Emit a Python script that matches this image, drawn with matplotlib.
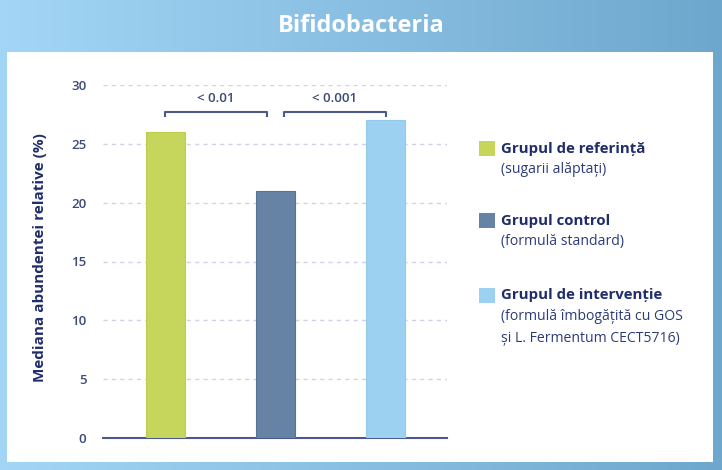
import numpy as np
import matplotlib
matplotlib.use("Agg")
import matplotlib.pyplot as plt
from matplotlib.patches import Rectangle
from matplotlib.colors import LinearSegmentedColormap

# data
groups = ["Grupul de referință", "Grupul control", "Grupul de intervenție"]
subtitles = ["(sugarii alăptați)", "(formulă standard)",
             "(formulă îmbogățită cu GOS\nși L. Fermentum CECT5716)"]
values = [26, 21, 27]
colors = ["#c6d55c", "#6683a6", "#9dd1f1"]
pvals = ["< 0.01", "< 0.001"]
yticks = [0, 5, 10, 15, 20, 25, 30]

navy = "#1f2d6b"
plt.rcParams["font.family"] = ["Open Sans", "DejaVu Sans"]

W, H = 722, 470
fig = plt.figure(figsize=(W / 100, H / 100), dpi=100)

# background frame with gradient
bg = fig.add_axes([0, 0, 1, 1])
bg.set_xlim(0, W)
bg.set_ylim(H, 0)
bg.axis("off")
cmap = LinearSegmentedColormap.from_list("hdr", ["#a3d6f6", "#6ea7cd"])
grad = np.linspace(0, 1, 256).reshape(1, -1)
bg.imshow(grad, cmap=cmap, extent=[0, W, H, 0], aspect="auto")
bg.add_patch(Rectangle((7, 52), 706, 410, facecolor="white", edgecolor="none"))
bg.text(W / 2, 26, "Bifidobacteria", color="white", fontsize=17, fontweight="bold",
        ha="center", va="center")

# main chart
ax = fig.add_axes([103 / W, (H - 438) / H, 344 / W, 353 / H])
x = np.arange(len(values))
ax.bar(x, values, width=0.355, color=colors, zorder=3,
       edgecolor=["#bccc50", "#56729a", "#95c9ea"], linewidth=0.8)
ax.set_xlim(-0.568, 2.559)
ax.set_ylim(0, 30)
ax.set_yticks(yticks)
ax.set_xticks([])
for t in yticks[1:]:
    ax.axhline(t, color="#cdd4e4", linewidth=1, linestyle=(0, (3, 3)), zorder=1)
for s in ["top", "right", "left"]:
    ax.spines[s].set_visible(False)
ax.spines["bottom"].set_color("#4b5a8a")
ax.spines["bottom"].set_linewidth(1.5)
ax.tick_params(axis="y", length=0, pad=12, labelsize=9.5, labelcolor="#3c4a78")
for lab in ax.get_yticklabels():
    lab.set_fontweight("semibold")
ax.patch.set_alpha(0)

# significance brackets
bh, tick = 27.7, 0.35
spans = [(x[0], x[1] - 0.08), (x[1] + 0.08, x[2])]
for (x0, x1), p in zip(spans, pvals):
    ax.plot([x0, x0, x1, x1], [bh - tick, bh, bh, bh - tick], color="#4b5a8a",
            linewidth=1.5, solid_joinstyle="round", clip_on=False)
    ax.text((x0 + x1) / 2, bh + 0.6, p, ha="center", va="bottom", fontsize=9.5,
            color="#3c4a78", fontweight="semibold")

fig.text(40 / W, (H - 258) / H, "Mediana abundentei relative (%)", rotation=90,
         ha="center", va="center", fontsize=11, fontweight="bold", color=navy)

# legend
sq_tops = [141, 213, 288]
for top, name, sub, c in zip(sq_tops, groups, subtitles, colors):
    bg.add_patch(Rectangle((479, top), 16, 15, facecolor=c, edgecolor="none"))
    bg.text(501, top + 7.5, name, fontsize=10.8, fontweight="bold", color=navy,
            ha="left", va="center")
    bg.text(501, top + 21, sub, fontsize=10.1, color="#2b3b78", ha="left",
            va="top", linespacing=1.6)

fig.savefig("out.png", dpi=100)
